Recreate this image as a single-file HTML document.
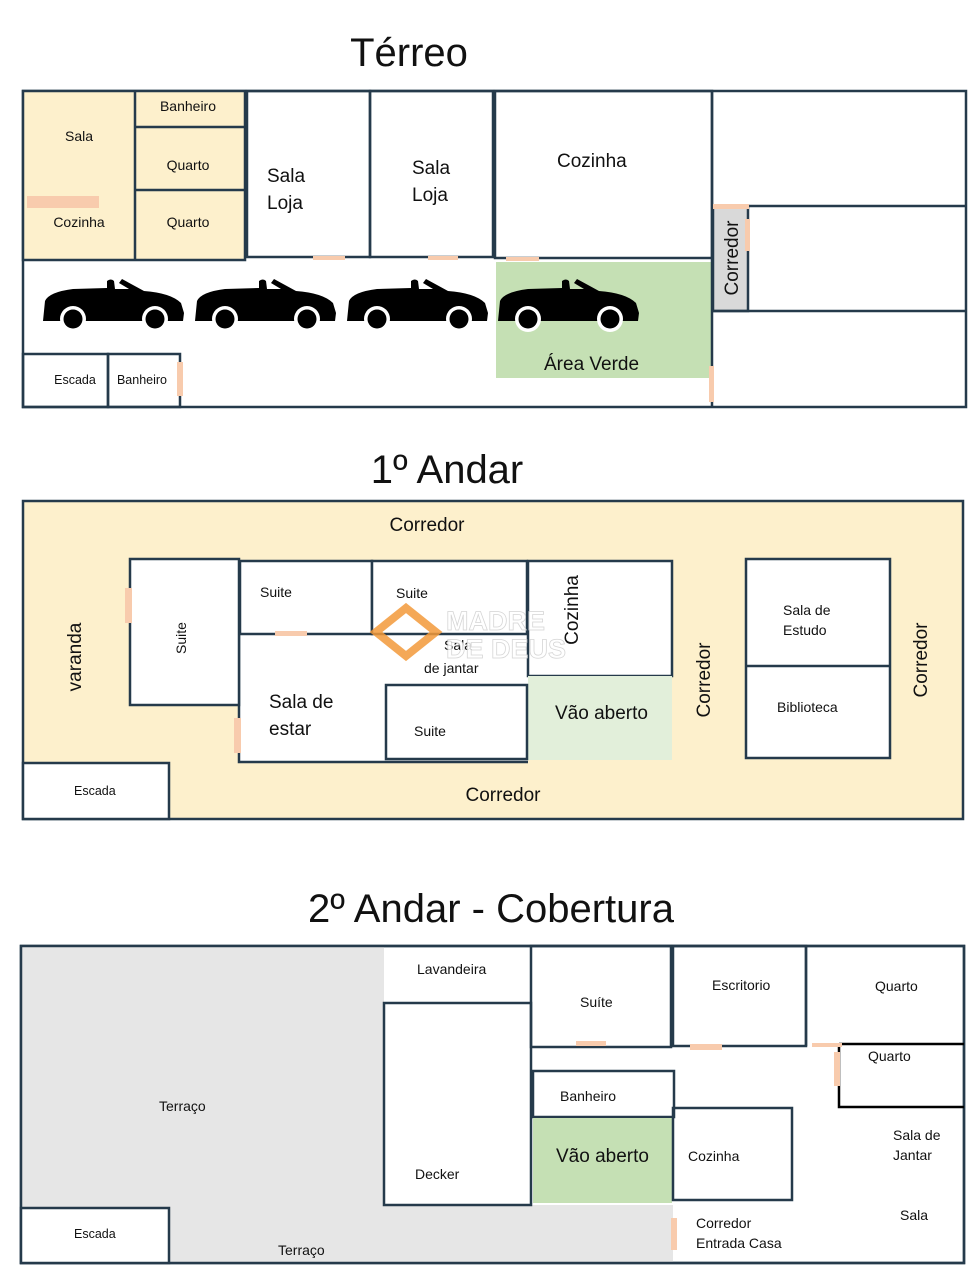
<!DOCTYPE html>
<html><head><meta charset="utf-8"><style>
html,body{margin:0;padding:0;background:#fff}
svg{display:block}
text{font-family:"Liberation Sans",sans-serif;fill:#111}
</style></head><body>
<svg width="971" height="1280" viewBox="0 0 971 1280" xmlns="http://www.w3.org/2000/svg">
<defs>
<g id="car">
<path d="M0,42 L2,22 Q6,13 30,10 L64,9 L64,2 Q68,-1 71,2 L72,10 L86,10 L76,4 L79,0 L101,12 Q128,14 138,24 L141,34 L140,42 Z" fill="#000"/>
<circle cx="30" cy="40" r="13" fill="#fff"/><circle cx="30" cy="40" r="9.5" fill="#000"/>
<circle cx="112" cy="40" r="13" fill="#fff"/><circle cx="112" cy="40" r="9.5" fill="#000"/>
</g>
</defs>
<g stroke="#253a4b" stroke-width="2.5" fill="none">
<rect x="23" y="91" width="943" height="316" fill="#fff"/>
<rect x="23" y="91" width="222" height="169" fill="#fdf0cc"/>
<line x1="135" y1="91" x2="135" y2="260"/>
<line x1="135" y1="127" x2="245" y2="127"/>
<line x1="135" y1="190" x2="245" y2="190"/>
<rect x="247" y="91" width="123" height="166"/>
<rect x="370" y="91" width="123" height="166"/>
<rect x="495" y="91" width="217" height="167"/>
<rect x="496" y="262" width="215" height="116" fill="#c5e0b4" stroke="none"/>
<line x1="712" y1="91" x2="712" y2="407"/>
<rect x="713" y="206" width="35" height="105" fill="#d9d9d9"/>
<line x1="748" y1="206" x2="966" y2="206"/>
<line x1="713" y1="311" x2="966" y2="311"/>
<rect x="23" y="354" width="85" height="53"/>
<rect x="108" y="354" width="72" height="53"/>
<rect x="23" y="501" width="940" height="318" fill="#fdf0cc"/>
<rect x="239" y="634" width="289" height="128" fill="#fff" stroke="none"/>
<path d="M239,634 L239,762 L528,762"/>
<rect x="130" y="559" width="109" height="146" fill="#fff"/>
<rect x="240" y="561" width="132" height="73" fill="#fff"/>
<rect x="372" y="561" width="155" height="73" fill="#fff"/>
<rect x="528" y="561" width="144" height="115" fill="#fff"/>
<rect x="528" y="676" width="144" height="84" fill="#e2efda" stroke="none"/>
<rect x="386" y="685" width="141" height="74" fill="#fff"/>
<rect x="746" y="559" width="144" height="199" fill="#fff"/>
<line x1="746" y1="666" x2="890" y2="666"/>
<rect x="23" y="763" width="146" height="56" fill="#fff"/>
<rect x="21" y="946" width="943" height="317" fill="#fff"/>
<path d="M22,947 L384,947 L384,1205 L673,1205 L673,1262 L22,1262 Z" fill="#e6e6e6" stroke="none"/>
<rect x="21" y="946" width="943" height="317" fill="none"/>
<rect x="384" y="1003" width="147" height="202" fill="#fff"/>
<rect x="531" y="946" width="140" height="101"/>
<rect x="673" y="946" width="133" height="100"/>
<line x1="806" y1="946" x2="806" y2="1046"/>
<line x1="839" y1="1044" x2="964" y2="1044" stroke="#000"/>
<path d="M839,1044 L839,1107 L964,1107" stroke="#000"/>
<rect x="533" y="1071" width="141" height="46"/>
<rect x="533" y="1118" width="139" height="85" fill="#c5e0b4" stroke="none"/>
<rect x="673" y="1108" width="119" height="92"/>
<rect x="21" y="1208" width="148" height="55" fill="#fff"/>
</g>
<g fill="#f8cbad">
<rect x="27" y="196" width="72" height="12"/>
<rect x="313" y="256" width="32" height="4"/>
<rect x="428" y="256" width="30" height="4"/>
<rect x="506" y="257" width="33" height="4"/>
<rect x="713" y="204" width="36" height="5"/>
<rect x="745" y="219" width="5" height="32"/>
<rect x="709" y="366" width="5" height="36"/>
<rect x="177" y="362" width="6" height="34"/>
<rect x="125" y="588" width="7" height="35"/>
<rect x="275" y="631" width="32" height="5"/>
<rect x="234" y="718" width="7" height="35"/>
<rect x="576" y="1041" width="30" height="5"/>
<rect x="690" y="1044" width="32" height="6"/>
<rect x="812" y="1043" width="30" height="4"/>
<rect x="834" y="1052" width="6" height="34"/>
<rect x="671" y="1218" width="6" height="32"/>
</g>
<use href="#car" x="43" y="279"/>
<use href="#car" x="195" y="279"/>
<use href="#car" x="347" y="279"/>
<use href="#car" x="498" y="279"/>
<text x="409" y="66" font-size="40" text-anchor="middle">Térreo</text>
<text x="447" y="483" font-size="40" text-anchor="middle">1º Andar</text>
<text x="491" y="922" font-size="40" text-anchor="middle">2º Andar - Cobertura</text>
<g font-size="14" text-anchor="middle">
<text x="79" y="141">Sala</text><text x="79" y="227">Cozinha</text>
<text x="188" y="111">Banheiro</text><text x="188" y="170">Quarto</text><text x="188" y="227">Quarto</text>
<text x="75" y="384" font-size="12.5">Escada</text><text x="142" y="384" font-size="12.5">Banheiro</text>
</g>
<g font-size="19">
<text x="267" y="182">Sala</text><text x="267" y="209">Loja</text>
<text x="412" y="174">Sala</text><text x="412" y="201">Loja</text>
<text x="557" y="167">Cozinha</text>
<text x="544" y="370">Área Verde</text>
<text transform="translate(738,258) rotate(-90)" text-anchor="middle">Corredor</text>
<text x="427" y="531" text-anchor="middle">Corredor</text>
<text x="503" y="801" text-anchor="middle">Corredor</text>
<text transform="translate(81,657) rotate(-90)" text-anchor="middle">varanda</text>
<text transform="translate(710,680) rotate(-90)" text-anchor="middle">Corredor</text>
<text transform="translate(927,660) rotate(-90)" text-anchor="middle">Corredor</text>
<text x="269" y="708">Sala de</text><text x="269" y="735">estar</text>
<text x="555" y="719">Vão aberto</text>
<text x="556" y="1162">Vão aberto</text>
<text transform="translate(578,610) rotate(-90)" text-anchor="middle">Cozinha</text>
</g>
<g font-size="14">
<text transform="translate(186,638) rotate(-90)" text-anchor="middle">Suite</text>
<text x="260" y="597">Suite</text><text x="396" y="598">Suite</text>
<text x="444" y="650">Sala</text><text x="424" y="673">de jantar</text>
<text x="414" y="736">Suite</text>
<text x="783" y="615">Sala de</text><text x="783" y="635">Estudo</text>
<text x="777" y="712">Biblioteca</text>
<text x="74" y="795" font-size="12.5">Escada</text>
<text x="159" y="1111">Terraço</text><text x="278" y="1255">Terraço</text>
<text x="74" y="1238" font-size="12.5">Escada</text>
<text x="417" y="974">Lavandeira</text>
<text x="580" y="1007">Suíte</text>
<text x="712" y="990">Escritorio</text>
<text x="875" y="991">Quarto</text>
<text x="868" y="1061">Quarto</text>
<text x="560" y="1101">Banheiro</text>
<text x="415" y="1179">Decker</text>
<text x="688" y="1161">Cozinha</text>
<text x="893" y="1140">Sala de</text><text x="893" y="1160">Jantar</text>
<text x="900" y="1220">Sala</text>
<text x="696" y="1228">Corredor</text><text x="696" y="1248">Entrada Casa</text>
</g>
<g opacity="0.85">
<path d="M406,608 L436,632 L406,656 L376,632 Z" fill="none" stroke="#f39a3a" stroke-width="8"/>
<text x="446" y="630" font-size="27" font-weight="bold" style="fill:#fff;stroke:#cfcfcf;stroke-width:0.8">MADRE</text>
<text x="446" y="658" font-size="27" font-weight="bold" style="fill:#fff;stroke:#cfcfcf;stroke-width:0.8">DE DEUS</text>
</g>
</svg>
</body></html>
